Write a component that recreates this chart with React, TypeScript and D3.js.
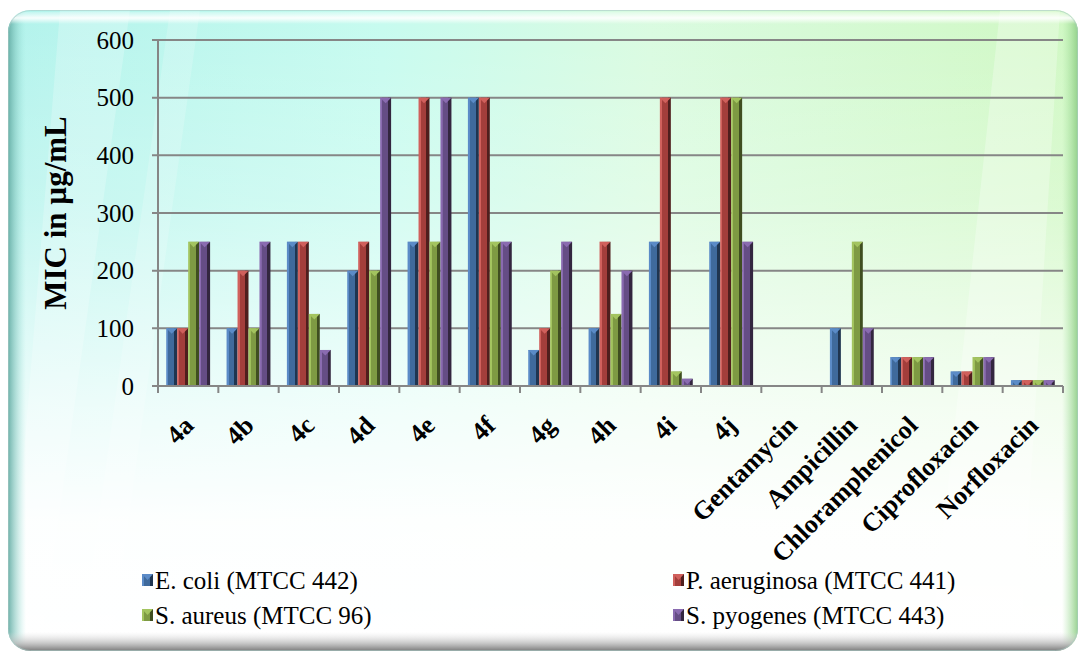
import React from "react";
import * as d3 from "d3";

const categories = ["4a","4b","4c","4d","4e","4f","4g","4h","4i","4j","Gentamycin","Ampicillin","Chloramphenicol","Ciprofloxacin","Norfloxacin"];
const seriesNames = ["E. coli (MTCC 442)","P. aeruginosa (MTCC 441)","S. aureus (MTCC 96)","S. pyogenes (MTCC 443)"];
const eColi = [100,100,250,200,250,500,62.5,100,250,250,0,100,50,25,10];
const pAeruginosa = [100,200,250,250,500,500,100,250,500,500,0,0,50,25,10];
const sAureus = [250,100,125,200,250,250,200,125,25,500,0,250,50,50,10];
const sPyogenes = [250,250,62.5,500,500,250,250,200,12.5,250,0,100,50,50,10];
const yTicks = [0,100,200,300,400,500,600];
const seriesValues = [eColi, pAeruginosa, sAureus, sPyogenes];
const colors = ["#3f6a9c","#a33e3b","#7e9a43","#654d85"];
const lights = ["#5b8bc7","#d0605c","#a3c45f","#8a6bb0"];
const darks = ["#1f3550","#4f1e1d","#3f4e20","#33263f"];

const W = 1083, H = 655;
const L = 158, R = 1063, T = 40, B = 386;

export default function App() {
  const x0 = d3.scaleBand<string>().domain(categories).range([L, R]).paddingInner(0).paddingOuter(0);
  const bw = x0.bandwidth();
  const barW = bw / 5.5;
  const gap = (bw - 4 * barW) / 2;
  const x1 = d3.scaleBand<string>().domain(seriesNames).range([gap, bw - gap]);
  const y = d3.scaleLinear().domain([0, 600]).range([B, T]);
  const serif = "'Liberation Serif','Times New Roman',Times,serif";

  return (
    <div style={{ position: "absolute", left: 0, top: 0 }}>
      <svg width={W} height={H} style={{ display: "block" }}>
        <defs>
          <linearGradient id="bgH" x1="0" y1="0" x2="1" y2="0">
            <stop offset="0" stopColor="#b2f3ec" />
            <stop offset="0.35" stopColor="#c6fbef" />
            <stop offset="0.6" stopColor="#d9fbe0" />
            <stop offset="1" stopColor="#cff8c2" />
          </linearGradient>
          <linearGradient id="bgV" x1="0" y1="0" x2="0" y2="1">
            <stop offset="0" stopColor="#ffffff" stopOpacity="0" />
            <stop offset="0.3" stopColor="#ffffff" stopOpacity="0.25" />
            <stop offset="0.62" stopColor="#ffffff" stopOpacity="0.75" />
            <stop offset="0.8" stopColor="#ffffff" stopOpacity="0.97" />
            <stop offset="1" stopColor="#ffffff" stopOpacity="1" />
          </linearGradient>
          <linearGradient id="edgeL" x1="0" y1="0" x2="1" y2="0">
            <stop offset="0" stopColor="#5fa8a0" stopOpacity="0.9" />
            <stop offset="1" stopColor="#9ee6dc" stopOpacity="0" />
          </linearGradient>
          <linearGradient id="edgeR" x1="0" y1="0" x2="1" y2="0">
            <stop offset="0" stopColor="#a8e3a0" stopOpacity="0" />
            <stop offset="1" stopColor="#8ccc84" stopOpacity="0.9" />
          </linearGradient>
          <linearGradient id="edgeB" x1="0" y1="0" x2="0" y2="1">
            <stop offset="0" stopColor="#e0e0e0" stopOpacity="0" />
            <stop offset="0.6" stopColor="#b8b8b8" stopOpacity="0.8" />
            <stop offset="1" stopColor="#7a7a7a" stopOpacity="1" />
          </linearGradient>
          <linearGradient id="edgeT" x1="0" y1="0" x2="0" y2="1">
            <stop offset="0" stopColor="#ffffff" stopOpacity="0.2" />
            <stop offset="0.5" stopColor="#ffffff" stopOpacity="0.9" />
            <stop offset="1" stopColor="#ffffff" stopOpacity="0" />
          </linearGradient>
          <clipPath id="frameClip">
            <rect x={8} y={10} width={1070} height={641} rx={22} ry={22} />
          </clipPath>
          {colors.map((c, i) => (
            <linearGradient key={i} id={`bar${i}`} x1="0" y1="0" x2="1" y2="0">
              <stop offset="0" stopColor={lights[i]} />
              <stop offset="0.18" stopColor={lights[i]} />
              <stop offset="0.2" stopColor={c} />
              <stop offset="0.7" stopColor={c} />
              <stop offset="0.72" stopColor={darks[i]} />
              <stop offset="1" stopColor={darks[i]} />
            </linearGradient>
          ))}
        </defs>

        <g clipPath="url(#frameClip)">
          <rect x={8} y={10} width={1070} height={641} fill="url(#bgH)" />
          <polygon points="60,10 130,10 40,651 8,651" fill="#ffffff" opacity={0.22} />
          <polygon points="170,10 200,10 110,651 80,651" fill="#ffffff" opacity={0.18} />
          <polygon points="1000,10 1060,10 1020,651 930,651" fill="#ffffff" opacity={0.28} />
          <rect x={8} y={10} width={1070} height={641} fill="url(#bgV)" />
          <rect x={8} y={10} width={18} height={641} fill="url(#edgeL)" />
          <rect x={1062} y={10} width={16} height={641} fill="url(#edgeR)" />
          <rect x={8} y={12} width={1070} height={12} fill="url(#edgeT)" />
          <rect x={8} y={632} width={1070} height={19} fill="url(#edgeB)" />
        </g>
        <rect x={8.5} y={10.5} width={1069} height={640} rx={22} ry={22} fill="none" stroke="#a9c9c4" strokeOpacity={0.6} />

        {yTicks.map((t) => (
          <line key={t} x1={L - 6} x2={R} y1={y(t)} y2={y(t)} stroke="#868686" strokeWidth={2} />
        ))}
        <line x1={L} x2={L} y1={T} y2={B} stroke="#868686" strokeWidth={2} />
        {categories.map((c) => (
          <line key={c} x1={x0(c)!} x2={x0(c)!} y1={B} y2={B + 7} stroke="#868686" strokeWidth={2} />
        ))}
        <line x1={R} x2={R} y1={B} y2={B + 7} stroke="#868686" strokeWidth={2} />

        {categories.map((c, ci) => (
          <g key={c} transform={`translate(${x0(c)},0)`}>
            {seriesNames.map((s, si) => {
              const v = seriesValues[si][ci];
              if (!v) return null;
              const bx = x1(s)!;
              const w = x1.bandwidth();
              const top = y(v);
              const h = B - top;
              const tri = Math.min(w / 2, h);
              return (
                <g key={s}>
                  <rect x={bx} y={top} width={w} height={h} fill={`url(#bar${si})`} />
                  <polygon points={`${bx},${top} ${bx + w},${top} ${bx + w / 2},${top + tri}`} fill={lights[si]} />
                </g>
              );
            })}
          </g>
        ))}
        <line x1={L} x2={R} y1={B} y2={B} stroke="#868686" strokeWidth={2} />

        {yTicks.map((t) => (
          <text key={t} x={134} y={y(t)} dy="0.35em" textAnchor="end" fontFamily={serif} fontSize={25} fill="#000">{t}</text>
        ))}
        <text transform={`translate(66,213) rotate(-90)`} textAnchor="middle" fontFamily={serif} fontWeight="bold" fontSize={31} fill="#000">MIC in µg/mL</text>

        {categories.map((c) => {
          const cx = x0(c)! + bw / 2;
          return (
            <text key={c} transform={`translate(${cx + 7},${427}) rotate(-45)`} textAnchor="end" fontFamily={serif} fontWeight="bold" fontSize={26} fill="#000">{c}</text>
          );
        })}

        {seriesNames.map((s, i) => {
          const lx = i % 2 === 0 ? 142 : 673;
          const ly = i < 2 ? 580 : 615;
          return (
            <g key={s}>
              <rect x={lx} y={ly - 6} width={11} height={12} fill={`url(#bar${i})`} />
              <polygon points={`${lx},${ly - 6} ${lx + 11},${ly - 6} ${lx + 5.5},${ly}`} fill={lights[i]} />
              <text x={lx + 13} y={ly} dy="0.35em" fontFamily={serif} fontSize={25} fill="#000">{s}</text>
            </g>
          );
        })}
      </svg>
    </div>
  );
}
